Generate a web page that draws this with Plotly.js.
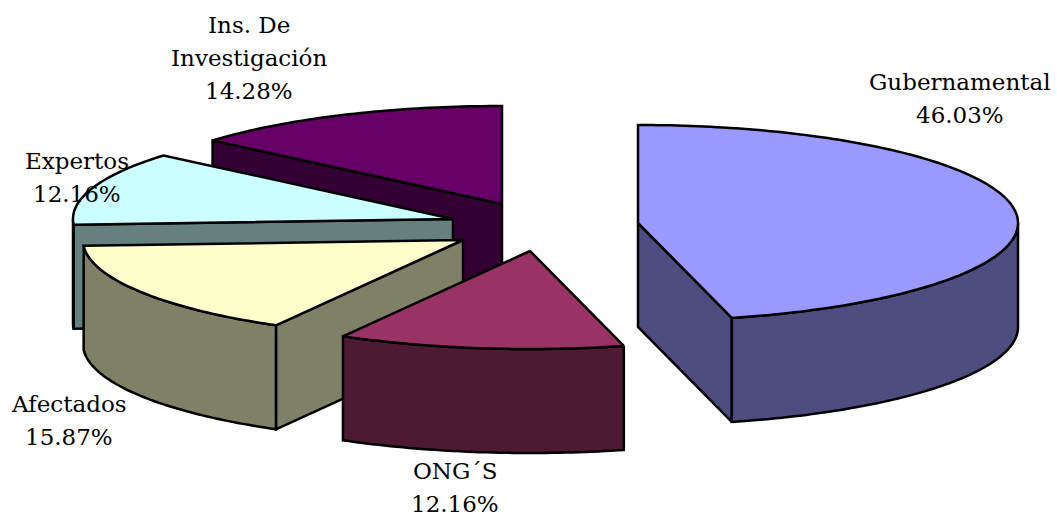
<!DOCTYPE html>
<html><head><meta charset="utf-8">
<script src="https://cdn.plot.ly/plotly-3.0.1.min.js"></script>
<style>html,body{margin:0;padding:0;background:#fff}#c{width:1057px;height:520px}</style>
</head><body><div id="c"></div>
<script>
// Data, in drawing order from the back slice to the front one
const categories = ["Ins. De|Investigación", "Expertos", "Afectados", "ONG´S", "Gubernamental"];
const shares = [14.28, 12.16, 15.87, 12.16, 46.03];
const sliceOrderClockwise = ["Gubernamental", "ONG´S", "Afectados", "Expertos", "Ins. De|Investigación"];
const topColors = ["#660066", "#ccffff", "#ffffcc", "#993366", "#9999ff"];
const sideColors = ["#330033", "#668080", "#808066", "#4d1a33", "#4d4d80"];
// Projection
const hubX = [502, 453, 463, 530, 638];
const hubY = [204, 219, 240, 251, 223];
const labelX = [249, 77, 69, 455, 960];
const labelLastY = [91, 194, 437, 504, 115];
const RX = 380, RY = 98, DEPTH = 104, LINE_GAP = 33;

const rad = d => d * Math.PI / 180;
const angles = {};
let acc = 0;
sliceOrderClockwise.forEach(n => {
  const v = shares[categories.indexOf(n)] * 3.6;
  angles[n] = [acc, Math.min(acc + v, 360)];
  acc += v;
});
const px = (i, a) => hubX[i] + RX * Math.sin(rad(a));
const py = (i, a) => hubY[i] - RY * Math.cos(rad(a));
function arc(i, a0, a1, dz) {
  const xs = [], ys = [], n = Math.max(2, Math.ceil(Math.abs(a1 - a0)));
  for (let k = 0; k <= n; k++) {
    const a = a0 + (a1 - a0) * k / n;
    xs.push(px(i, a)); ys.push(py(i, a) + dz);
  }
  return [xs, ys];
}
const traces = [];
function poly(xs, ys, color) {
  traces.push({
    type: "scatter", mode: "lines", x: xs.concat(xs[0]), y: ys.concat(ys[0]),
    fill: "toself", fillcolor: color, line: {color: "#000", width: 2.5, simplify: false},
    hoverinfo: "skip", showlegend: false
  });
}
categories.forEach((name, i) => {
  const [a0, a1] = angles[name];
  // radial cut faces that face the viewer
  const faces = [];
  if (Math.sin(rad(a0)) < -1e-6) faces.push(a0);
  if (Math.sin(rad(a1)) > 1e-6) faces.push(a1);
  faces.forEach(a => {
    poly([hubX[i], px(i, a), px(i, a), hubX[i]],
         [hubY[i], py(i, a), py(i, a) + DEPTH, hubY[i] + DEPTH], sideColors[i]);
  });
  // outer wall: only the front half of the rim
  const w0 = Math.max(a0, 90), w1 = Math.min(a1, 270);
  if (w1 > w0) {
    const [tx, ty] = arc(i, w0, w1, 0);
    const [bx, by] = arc(i, w1, w0, DEPTH);
    poly(tx.concat(bx), ty.concat(by), sideColors[i]);
  }
  // top face
  const [ax, ay] = arc(i, a0, a1, 0);
  poly([hubX[i]].concat(ax), [hubY[i]].concat(ay), topColors[i]);
});
const annotations = [];
categories.forEach((name, i) => {
  const lines = name.split("|").concat(shares[i].toFixed(2) + "%");
  lines.forEach((t, k) => annotations.push({
    x: labelX[i], y: labelLastY[i] - (lines.length - 1 - k) * LINE_GAP,
    xref: "x", yref: "y", showarrow: false, text: t,
    xanchor: "center", yanchor: "middle",
    font: {family: "DejaVu Serif", size: 23, color: "#000"}
  }));
});
Plotly.newPlot("c", traces, {
  width: 1057, height: 520, margin: {l: 0, r: 0, t: 0, b: 0},
  paper_bgcolor: "#fff", plot_bgcolor: "#fff", showlegend: false,
  xaxis: {range: [0, 1057], visible: false, fixedrange: true},
  yaxis: {range: [520, 0], visible: false, fixedrange: true},
  annotations
}, {displayModeBar: false, staticPlot: true});
</script></body></html>
